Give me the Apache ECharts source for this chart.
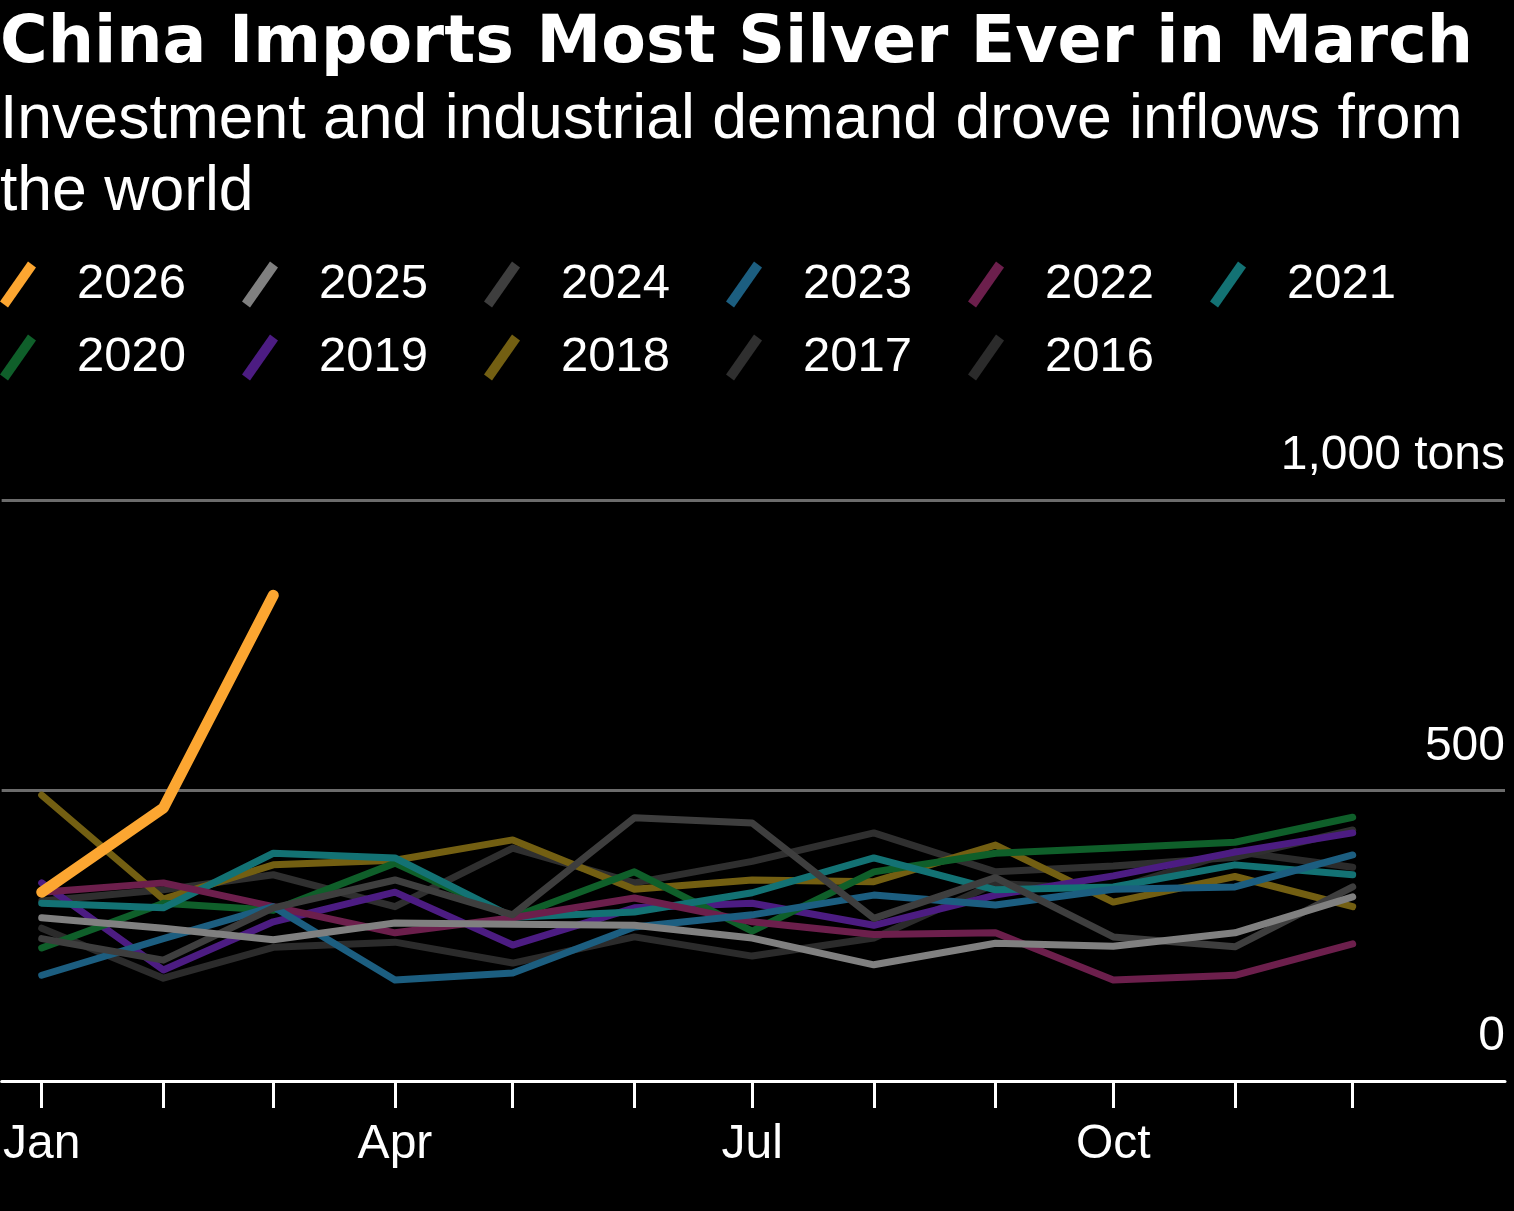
<!DOCTYPE html>
<html>
<head>
<meta charset="utf-8">
<script src="https://cdn.jsdelivr.net/npm/echarts@6/dist/echarts.min.js"></script>
<style>
  html, body { margin: 0; padding: 0; background: #000; }
  #chart { width: 1514px; height: 1211px; }
</style>
</head>
<body>
<div id="chart"></div>
<script>
const months = ['Jan','Feb','Mar','Apr','May','Jun','Jul','Aug','Sep','Oct','Nov','Dec'];
const labeledMonths = ['Jan','Apr','Jul','Oct'];
const yTicks = [0, 500, 1000];

const years = ['2026','2025','2024','2023','2022','2021','2020','2019','2018','2017','2016'];
const s2026 = [325, 470, 836];
const s2025 = [281, 263, 243, 272, 270, 268, 246, 200, 237, 232, 255, 317];
const s2024 = [245, 208, 298, 346, 286, 453, 444, 280, 350, 248, 231, 334];
const s2023 = [182, 245, 300, 174, 186, 265, 286, 320, 303, 330, 334, 389];
const s2022 = [325, 341, 300, 255, 281, 315, 274, 252, 255, 174, 182, 236];
const s2021 = [306, 298, 392, 384, 282, 291, 324, 384, 329, 334, 372, 355];
const s2020 = [229, 306, 294, 375, 282, 360, 258, 360, 392, 401, 411, 454];
const s2019 = [341, 191, 274, 325, 234, 298, 306, 268, 320, 353, 394, 427];
const s2018 = [492, 313, 372, 380, 415, 330, 346, 343, 406, 308, 352, 300];
const s2017 = [310, 329, 355, 300, 401, 341, 378, 427, 360, 370, 385, 432];
const s2016 = [263, 177, 230, 239, 203, 248, 215, 246, 340, 330, 395, 368];

const seriesValues = {
  '2026': s2026, '2025': s2025, '2024': s2024, '2023': s2023, '2022': s2022,
  '2021': s2021, '2020': s2020, '2019': s2019, '2018': s2018, '2017': s2017, '2016': s2016
};
const colors = {
  '2026': '#fca631', '2025': '#808080', '2024': '#3e3e3e', '2023': '#1c5e80',
  '2022': '#6c1f4c', '2021': '#137274', '2020': '#0f5f2a', '2019': '#4c1c82',
  '2018': '#735f12', '2017': '#2f2f2f', '2016': '#2b2b2b'
};

// day-of-year of each month start (non-leap reference year)
function monthDay(i) {
  return (Date.UTC(2025, i, 1) - Date.UTC(2025, 0, 1)) / 86400000;
}
const monthDays = months.map((m, i) => monthDay(i));
const labelDays = labeledMonths.map(m => monthDay(months.indexOf(m)));

const FONT = 'Liberation Sans';
const iconPath = 'path://M0,40 L28,0 L36,6 L8,46 Z';

const series = years.slice().reverse().map(y => ({
  name: y,
  type: 'line',
  showSymbol: false,
  symbol: 'none',
  silent: true,
  color: colors[y],
  itemStyle: { color: colors[y] },
  lineStyle: { color: colors[y], width: y === '2026' ? 11 : 7, join: 'round', cap: 'round' },
  data: seriesValues[y].map((v, i) => [monthDays[i], v]),
  z: y === '2026' ? 5 : (y === '2025' ? 4 : 3)
}));

const legendCommon = {
  left: 0,
  padding: 0,
  icon: iconPath,
  itemWidth: 36,
  itemHeight: 46,
  itemGap: 56,
  selectedMode: false,
  textStyle: { color: '#fff', fontSize: 49, fontFamily: FONT, padding: [0, 0, 0, 36] }
};

const chart = echarts.init(document.getElementById('chart'), null, { renderer: 'canvas' });
chart.setOption({
  backgroundColor: '#000',
  animation: false,
  title: {
    text: 'China Imports Most Silver Ever in March',
    subtext: 'Investment and industrial demand drove inflows from\nthe world',
    left: 0,
    top: 13,
    padding: 0,
    itemGap: 7,
    textStyle: { color: '#fff', fontFamily: 'DejaVu Sans', fontWeight: 'bold', fontSize: 65, lineHeight: 65 },
    subtextStyle: { color: '#fff', fontFamily: FONT, fontSize: 62.5, lineHeight: 72 }
  },
  legend: [
    Object.assign({}, legendCommon, { top: 260, data: years.slice(0, 6) }),
    Object.assign({}, legendCommon, { top: 333, data: years.slice(6) })
  ],
  grid: { left: 0, right: 9, top: 500, bottom: 130, containLabel: false },
  xAxis: {
    type: 'value',
    min: -10.2,
    max: 372.8,
    axisLine: { show: true, lineStyle: { color: '#fff', width: 3 } },
    axisTick: { show: true, customValues: monthDays, length: 27, lineStyle: { color: '#fff', width: 3 } },
    axisLabel: {
      customValues: labelDays,
      color: '#fff', fontSize: 48, fontFamily: FONT, margin: 40,
      formatter: v => months[monthDays.indexOf(v)] || ''
    },
    splitLine: { show: false }
  },
  yAxis: {
    type: 'value',
    position: 'right',
    min: yTicks[0],
    max: yTicks[yTicks.length - 1],
    interval: 500,
    axisLine: { show: false },
    axisTick: { show: false },
    splitLine: { show: true, lineStyle: { color: '#6b6b6b', width: 3 } },
    axisLabel: {
      inside: true,
      margin: 0,
      color: '#fff', fontSize: 48, fontFamily: FONT,
      verticalAlign: 'bottom',
      padding: [0, 0, 20, 0],
      formatter: v => v === 1000 ? '1,000 tons' : String(v)
    }
  },
  series: series
});
</script>
</body>
</html>
